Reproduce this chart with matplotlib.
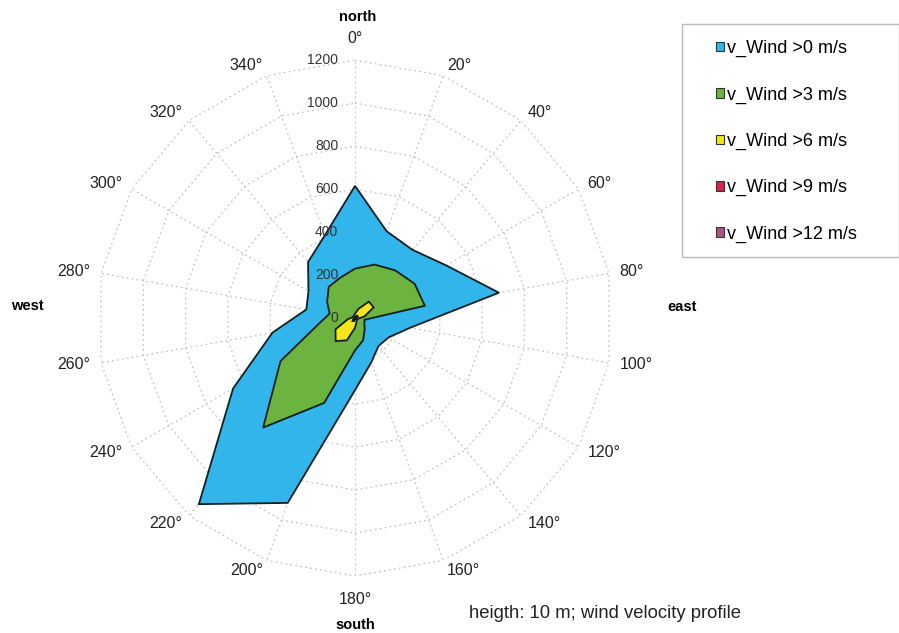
import numpy as np
import matplotlib
matplotlib.use('Agg')
import matplotlib.pyplot as plt
from matplotlib.patches import Patch, Rectangle

plt.rcParams['font.family'] = ['Liberation Sans', 'DejaVu Sans']

# directions in degrees (compass, clockwise from north)
directions = [0, 20, 40, 60, 80, 100, 120, 140, 160, 180, 200, 220, 240, 260, 280, 300, 320, 340]

# counts per direction for each velocity class
v_gt0 = [615, 430, 415, 490, 680, 260, 180, 170, 220, 335, 915, 1130, 655, 390, 230, 250, 340, 410]
v_gt3 = [230, 265, 290, 320, 330, 45, 50, 70, 110, 150, 420, 665, 400, 175, 120, 150, 190, 200]
v_gt6 = [20, 45, 100, 100, 45, 15, 12, 12, 20, 45, 110, 140, 105, 35, 15, 12, 12, 12]
v_gt9 = [5, 8, 15, 15, 8, 5, 4, 4, 5, 8, 15, 18, 10, 6, 5, 4, 4, 4]
v_gt12 = [2, 3, 5, 5, 3, 2, 2, 2, 2, 3, 5, 6, 4, 2, 2, 2, 2, 2]

series = [v_gt0, v_gt3, v_gt6, v_gt9, v_gt12]
labels = ['v_Wind >0 m/s', 'v_Wind >3 m/s', 'v_Wind >6 m/s', 'v_Wind >9 m/s', 'v_Wind >12 m/s']
colors = ['#31b5ea', '#6cb43f', '#f7e51c', '#dc1f4a', '#a8567f']

r_ticks = [0, 200, 400, 600, 800, 1000, 1200]
r_max = 1200

fig = plt.figure(figsize=(8.99, 6.33), dpi=100)
ax = fig.add_axes([0.1079, 0.0900, 0.574, 0.815], projection='polar')
ax.set_theta_zero_location('N')
ax.set_theta_direction(-1)
ax.set_ylim(0, r_max)
ax.grid(False)
ax.set_xticks([])
ax.set_yticks([])
ax.spines['polar'].set_visible(False)
ax.patch.set_alpha(0)

theta = np.deg2rad(directions + [directions[0]])

# spider web grid
for r in r_ticks[1:]:
    ax.plot(theta, [r] * len(theta), color='#c4c4c4', lw=0.9, ls=(0, (1.5, 2.5)), zorder=1)
for d in directions:
    t = np.deg2rad(d)
    ax.plot([t, t], [0, r_max], color='#c4c4c4', lw=0.9, ls=(0, (1.5, 2.5)), zorder=1)

# wind rose polygons
for vals, col in zip(series, colors):
    ax.fill(theta, vals + [vals[0]], facecolor=col, edgecolor='#102020', lw=1.3, zorder=2)

# radial labels
for r in r_ticks:
    ax.annotate(str(r), xy=(0, r), xytext=(-12, 0), textcoords='offset points',
                ha='right', va='center', fontsize=10, color='#333333', zorder=5)

# angle labels
for d in directions:
    t = np.deg2rad(d)
    if d == 0:
        ax.text(t, 1302, '0\u00b0', ha='center', va='center', fontsize=11.5, color='#222222')
    elif d == 180:
        ax.text(t, 1307, '180\u00b0', ha='center', va='center', fontsize=11.5, color='#222222')
    else:
        ha = 'left' if d < 180 else 'right'
        ax.text(t, 1250, '%d\u00b0' % d, ha=ha, va='center', fontsize=11.5, color='#222222')

fig.text(358 / 899, 1 - 17 / 633, 'north', ha='center', va='center', fontsize=10.5, weight='bold')
fig.text(355 / 899, 1 - 625 / 633, 'south', ha='center', va='center', fontsize=10.5, weight='bold')
fig.text(682 / 899, 1 - 307 / 633, 'east', ha='center', va='center', fontsize=10.5, weight='bold')
fig.text(27 / 899, 1 - 306 / 633, 'west', ha='center', va='center', fontsize=10.5, weight='bold')

# legend box
fig.patches.append(Rectangle((682 / 899, 1 - 257 / 633), 217 / 899, 233 / 633,
                             transform=fig.transFigure, facecolor='white',
                             edgecolor='#bbbbbb', lw=1.0))
handles = [Patch(facecolor=c, edgecolor='#333333', lw=0.8) for c in colors]
fig.legend(handles, labels, loc='upper left', bbox_to_anchor=(716 / 899, 1 - 40 / 633),
           frameon=False, fontsize=13, handlelength=0.45, handleheight=0.45,
           handletextpad=0.15, labelspacing=1.62, borderpad=0, borderaxespad=0)

fig.text(605 / 899, 1 - 613 / 633, 'heigth: 10 m; wind velocity profile',
         ha='center', va='center', fontsize=13.3, color='#222222')

fig.savefig('out.png', dpi=100)
